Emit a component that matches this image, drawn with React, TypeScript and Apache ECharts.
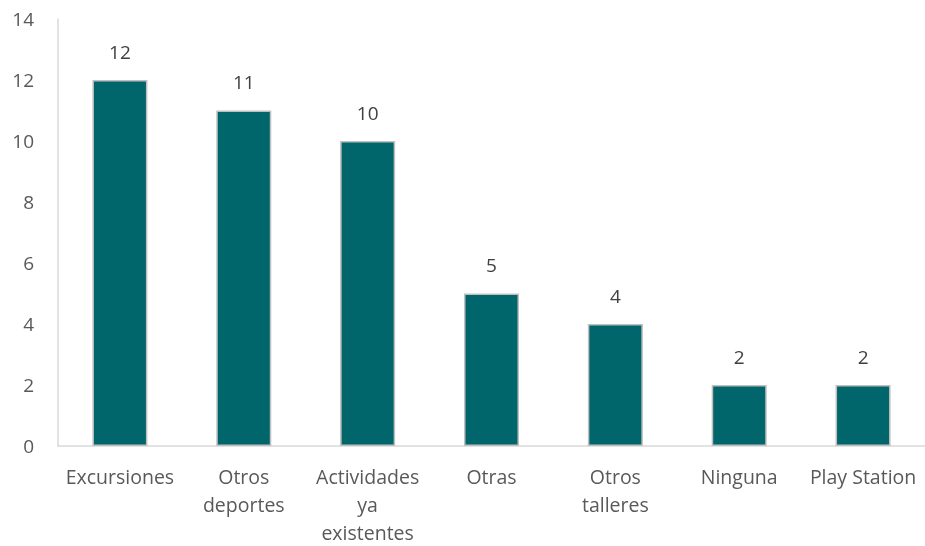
import React, { useEffect, useRef } from "react";
import * as echarts from "echarts";

const categories = ["Excursiones", "Otros\ndeportes", "Actividades\nya\nexistentes", "Otras", "Otros\ntalleres", "Ninguna", "Play Station"];
const values = [12, 11, 10, 5, 4, 2, 2];
const yTicks = { min: 0, max: 14, interval: 2 };

export default function App() {
  const ref = useRef<HTMLDivElement>(null);
  useEffect(() => {
    const chart = echarts.init(ref.current!, undefined, { renderer: "svg" });
    const font = "'Open Sans', sans-serif";
    chart.setOption({
      animation: false,
      grid: { left: 58, right: 0, top: 19, bottom: 100, containLabel: false, outerBoundsMode: "none" },
      xAxis: {
        type: "category",
        data: categories,
        axisLine: { lineStyle: { color: "#D9D9D9", width: 1.5 } },
        axisTick: { show: false },
        axisLabel: { color: "#595959", fontSize: 19.5, fontFamily: font, lineHeight: 28, margin: 16, interval: 0 },
      },
      yAxis: {
        type: "value",
        min: yTicks.min,
        max: yTicks.max,
        interval: yTicks.interval,
        axisLine: { show: true, lineStyle: { color: "#D9D9D9", width: 1.5 } },
        axisTick: { show: false },
        splitLine: { show: false },
        axisLabel: { color: "#595959", fontSize: 19, fontFamily: font, margin: 24 },
      },
      series: [
        {
          type: "bar",
          data: values,
          barWidth: 55,
          itemStyle: { color: "#00666B", borderColor: "#BFBFBF", borderWidth: 1.5 },
          label: { show: true, position: "top", distance: 19, color: "#404040", fontSize: 19, fontFamily: font },
        },
      ],
    });
    return () => chart.dispose();
  }, []);
  return <div ref={ref} style={{ position: "fixed", left: 0, top: 0, width: 925, height: 546 }} />;
}
